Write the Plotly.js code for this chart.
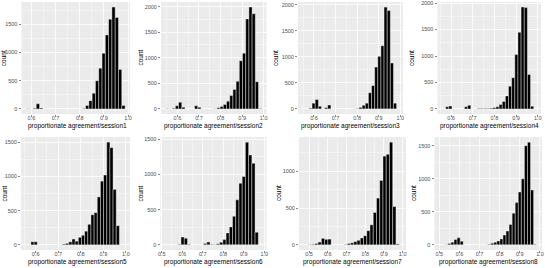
<!DOCTYPE html>
<html><head><meta charset="utf-8">
<script src="https://cdn.plot.ly/plotly-3.0.1.min.js"></script>
<style>html,body{margin:0;padding:0;background:#fff;}#chart{width:545px;height:268px;}</style>
</head><body><div id="chart"></div>
<script>
// ---- data (bin centres and counts) ----
const session1Bins = [0.5860,0.6132,0.6268,0.6404,0.8174,0.8310,0.8446,0.8582,0.8718,0.8855,0.8991,0.9127,0.9263,0.9399,0.9535,0.9671,0.9808];
const session1Counts = [2,12,90,15,8,60,147,276,500,723,988,1311,1590,1805,1620,700,60];

const session2Bins = [0.5536,0.5832,0.5981,0.6129,0.6277,0.6870,0.7018,0.7759,0.7907,0.8055,0.8203,0.8352,0.8500,0.8648,0.8796,0.8944,0.9092,0.9241,0.9389,0.9537,0.9685,0.9833];
const session2Counts = [2,10,60,130,30,60,30,5,20,45,85,150,260,380,540,940,1090,1760,1990,1860,530,8];

const session3Bins = [0.5840,0.5985,0.6130,0.6275,0.6565,0.6710,0.8015,0.8160,0.8305,0.8450,0.8595,0.8740,0.8885,0.9030,0.9175,0.9320,0.9465,0.9610,0.9755];
const session3Counts = [15,110,180,50,25,75,8,30,70,110,310,447,805,1009,1213,1955,1890,881,110];

const session4Bins = [0.5825,0.5970,0.6695,0.6840,0.7275,0.7420,0.7565,0.7710,0.7855,0.8000,0.8145,0.8290,0.8435,0.8580,0.8725,0.8870,0.9015,0.9160,0.9305,0.9450,0.9595,0.9740];
const session4Counts = [40,55,40,70,6,6,8,10,15,22,40,85,140,245,430,590,1030,1450,1925,1915,650,50];

const session5Bins = [0.586,0.600,0.726,0.740,0.754,0.768,0.782,0.796,0.810,0.824,0.838,0.852,0.866,0.880,0.894,0.908,0.922,0.936,0.950,0.964];
const session5Counts = [45,45,12,22,45,85,55,110,140,200,300,440,470,700,930,1020,1500,1420,810,280];

const session6Bins = [0.5863,0.6020,0.6177,0.6334,0.7119,0.7276,0.7433,0.7590,0.7747,0.7904,0.8061,0.8218,0.8375,0.8532,0.8689,0.8846,0.9003,0.9160,0.9317,0.9474,0.9631];
const session6Counts = [8,110,95,8,20,40,8,6,15,38,75,170,255,405,640,877,972,1460,1278,1160,180];

const session7Bins = [0.5055,0.5228,0.5401,0.5574,0.5747,0.5920,0.6093,0.6958,0.7131,0.7304,0.7477,0.7650,0.7823,0.7996,0.8169,0.8342,0.8515,0.8688,0.8861,0.9034,0.9207,0.9380,0.9553,0.9726];
const session7Counts = [4,8,18,38,88,75,78,5,18,27,45,62,93,123,192,272,440,635,875,1205,1230,1395,520,12];

const session8Bins = [0.5350,0.5502,0.5654,0.5806,0.5958,0.6110,0.7478,0.7630,0.7782,0.7934,0.8086,0.8238,0.8390,0.8542,0.8694,0.8846,0.8998,0.9150,0.9302,0.9454,0.9606,0.9758];
const session8Counts = [5,20,40,81,106,55,10,25,40,60,90,150,210,310,480,640,800,1000,1500,1555,830,10];

const binWidths = [0.0136,0.0148,0.0145,0.0145,0.0140,0.0157,0.0173,0.0152];
const panelTitles = ['proportionate agreement/session1','proportionate agreement/session2','proportionate agreement/session3','proportionate agreement/session4','proportionate agreement/session5','proportionate agreement/session6','proportionate agreement/session7','proportionate agreement/session8'];
const yTitle = 'count';
const xTicksTop = [0.6,0.7,0.8,0.9,1.0];
const xTicksBottom = [0.5,0.6,0.7,0.8,0.9,1.0];
const yTickValues = [0,500,1000,1500,2000];

const allBins = [session1Bins,session2Bins,session3Bins,session4Bins,session5Bins,session6Bins,session7Bins,session8Bins];
const allCounts = [session1Counts,session2Counts,session3Counts,session4Counts,session5Counts,session6Counts,session7Counts,session8Counts];

// ---- layout (pixel boxes of each panel, axis ranges) ----
const W = 545, H = 268;
const boxes = [
  [21.5,130,2,114],[161,266.5,2,114],[298,403,2,114],[437.5,541,2,114],
  [21,130,137,250],[160.5,266.5,137,250],[299,406,137,250],[434.5,542,137,250]
];
const xRanges = [[0.5588,1.008],[0.524,1.013],[0.526,1.0125],[0.5377,1.015],[0.535,1.018],[0.494,1.011],[0.4466,1.0176],[0.476,1.010]];
const yRanges = [[-90,1895],[-100,2090],[-98,2053],[-96,2021],[-75,1575],[-73,1533],[-70,1465],[-78,1633]];
const xTitleX = [77,213.5,350.5,489.5,77,213.5,352.5,488.5];
const yTitleX = [4.2,140.5,276,412,4,140,278.5,413.5];

const font = 'Liberation Sans, Arial, Helvetica, sans-serif';
const traces = [];
const layout = {
  width: W, height: H, margin: {l:0,r:0,t:0,b:0},
  paper_bgcolor: '#ffffff', plot_bgcolor: '#EBEBEB',
  showlegend: false, bargap: 0, font: {family: font},
  annotations: []
};

for (let i = 0; i < 8; i++) {
  const sfx = i === 0 ? '' : String(i + 1);
  traces.push({
    type: 'bar', x: allBins[i], y: allCounts[i], width: binWidths[i],
    xaxis: 'x' + sfx, yaxis: 'y' + sfx,
    marker: {color: '#000000', line: {color: '#ffffff', width: 0.4}},
    hoverinfo: 'skip'
  });
  const b = boxes[i];
  layout['xaxis' + sfx] = {
    domain: [b[0] / W, b[1] / W], anchor: 'y' + sfx, range: xRanges[i],
    tickmode: 'array', tickvals: i < 5 ? xTicksTop : xTicksBottom, tickformat: '.1f',
    ticks: 'outside', ticklen: 2, tickwidth: 0.6, tickcolor: '#333333',
    ticklabelstandoff: -4,
    tickfont: {size: 5.5, color: '#4D4D4D', family: font},
    showgrid: true, gridcolor: '#ffffff', gridwidth: 0.8,
    minor: {tickmode: 'linear', tick0: 0.05, dtick: 0.1, showgrid: true, gridcolor: '#ffffff', gridwidth: 0.4, ticks: ''},
    zeroline: false, showline: false, fixedrange: true
  };
  layout['yaxis' + sfx] = {
    domain: [1 - b[3] / H, 1 - b[2] / H], anchor: 'x' + sfx, range: yRanges[i],
    tickmode: 'array', tickvals: yTickValues,
    ticks: 'outside', ticklen: 2, tickwidth: 0.6, tickcolor: '#333333',
    tickfont: {size: 5.5, color: '#4D4D4D', family: font},
    showgrid: true, gridcolor: '#ffffff', gridwidth: 0.8,
    minor: {tickmode: 'linear', tick0: 250, dtick: 500, showgrid: true, gridcolor: '#ffffff', gridwidth: 0.4, ticks: ''},
    zeroline: false, showline: false, fixedrange: true
  };
  layout.annotations.push({
    text: panelTitles[i], xref: 'paper', yref: 'paper',
    x: xTitleX[i] / W, y: 1 - (i < 4 ? 125.5 : 262) / H,
    xanchor: 'center', yanchor: 'middle', showarrow: false,
    font: {size: 6.5, color: '#000000', family: font}
  });
  layout.annotations.push({
    text: yTitle, xref: 'paper', yref: 'paper',
    x: yTitleX[i] / W, y: 1 - ((b[2] + b[3]) / 2) / H,
    xanchor: 'center', yanchor: 'middle', textangle: -90, showarrow: false,
    font: {size: 6.5, color: '#000000', family: font}
  });
}

Plotly.newPlot('chart', traces, layout, {staticPlot: true, displayModeBar: false});
</script>
</body></html>
